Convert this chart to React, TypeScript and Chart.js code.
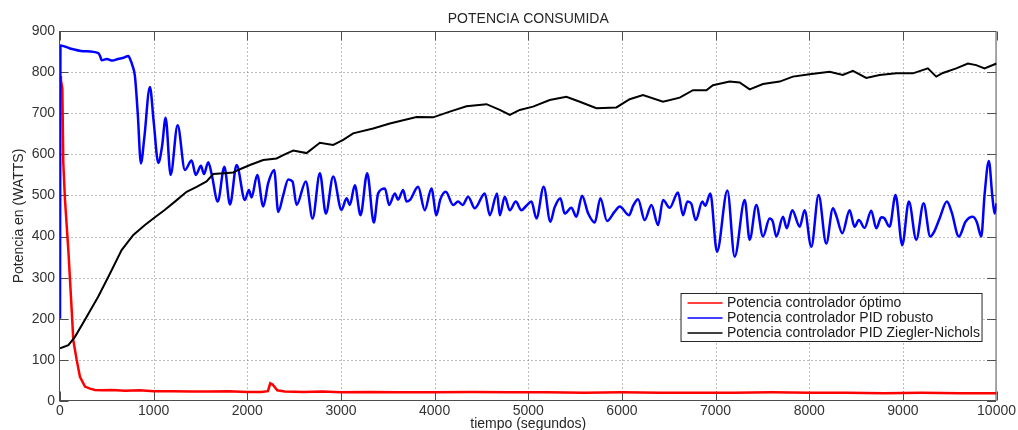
import React, { useEffect, useRef } from "react";
import { Chart, registerables } from "chart.js";

Chart.register(...registerables);

const titulo = "POTENCIA CONSUMIDA";
const etiquetaX = "tiempo (segundos)";
const etiquetaY = "Potencia en (WATTS)";
const nombresSeries = [
  "Potencia controlador óptimo",
  "Potencia controlador PID robusto",
  "Potencia controlador PID Ziegler-Nichols",
];
const coloresSeries = ["#ff0000", "#0000ff", "#000000"];

const ticksX = [0, 1000, 2000, 3000, 4000, 5000, 6000, 7000, 8000, 9000, 10000];
const ticksY = [0, 100, 200, 300, 400, 500, 600, 700, 800, 900];

// Potencia controlador óptimo
const tiempoOptimo = [
  0, 10, 25, 35, 53, 89, 125, 142, 178, 213, 267, 320, 374, 450, 550, 700, 850, 1000,
  1200, 1400, 1600, 1800, 2000, 2150, 2220, 2245, 2270, 2320, 2400, 2600, 2800, 3000,
  3300, 3600, 4000, 4400, 4800, 5200, 5600, 6000, 6400, 6800, 7200, 7600, 8000, 8400,
  8800, 9200, 9600, 10000,
];
const potenciaOptimo = [
  790, 780, 760, 580, 490, 367, 221, 148, 100, 59, 35, 30, 27, 26, 27, 25, 26, 24,
  24, 23, 23, 24, 22, 22, 24, 43, 40, 26, 23, 22, 23, 21,
  22, 21, 21, 22, 21, 21, 20, 21, 20, 20, 20, 21, 20, 20,
  19, 20, 19, 19,
];

// Potencia controlador PID robusto
const tiempoRobusto = [
  0, 5, 100, 250, 409, 430, 445, 500, 560, 620, 680, 729, 760, 772, 800, 830, 864, 900,
  960, 1000, 1050, 1090, 1128, 1181, 1256, 1334, 1405, 1450, 1505, 1537, 1583, 1619,
  1685, 1755, 1815, 1886, 1974, 2017, 2045, 2106, 2170, 2223, 2287, 2330, 2383, 2437,
  2483, 2526, 2625, 2697, 2775, 2839, 2917, 3006, 3060, 3095, 3148, 3209, 3280, 3351,
  3397, 3469, 3515, 3575, 3610, 3664, 3700, 3740, 3824, 3895, 3966, 4020, 4060, 4119,
  4198, 4250, 4300, 4358, 4429, 4536, 4589, 4667, 4696, 4749, 4802, 4867, 4927, 4980,
  5034, 5087, 5165, 5236, 5280, 5343, 5389, 5460, 5514, 5574, 5640, 5710, 5770, 5841,
  5920, 5977, 6076, 6120, 6172, 6243, 6315, 6386, 6439, 6510, 6599, 6652, 6700, 6740,
  6788, 6859, 6890, 6944, 7015, 7126, 7204, 7311, 7364, 7435, 7506, 7577, 7610, 7649,
  7720, 7760, 7819, 7898, 7951, 8022, 8100, 8182, 8253, 8290, 8353, 8431, 8484, 8530,
  8591, 8662, 8716, 8769, 8800, 8858, 8922, 8993, 9064, 9143, 9221, 9292, 9330, 9392,
  9470, 9520, 9598, 9669, 9747, 9790, 9837, 9872, 9918, 9954, 9979, 10000,
];
const potenciaRobusto = [
  200, 865, 858, 851, 846, 838, 829, 832, 828, 832, 835, 839, 825, 817, 790, 700, 578, 640,
  764, 680, 579, 620, 689, 550, 671, 562, 585, 550, 572, 552, 581, 552,
  485, 570, 478, 574, 489, 513, 495, 550, 473, 530, 562, 460, 500, 539,
  534, 477, 534, 444, 554, 456, 546, 465, 493, 477, 525, 452, 554, 434,
  505, 517, 477, 505, 490, 513, 485, 490, 521, 464, 517, 452, 490, 509,
  477, 485, 477, 497, 469, 505, 452, 505, 452, 497, 464, 485, 464, 475,
  485, 444, 521, 436, 470, 493, 456, 470, 448, 499, 456, 434, 493, 438,
  460, 473, 452, 475, 491, 440, 477, 428, 489, 470, 507, 452, 485, 480,
  440, 485, 475, 505, 363, 512, 351, 489, 392, 477, 400, 444, 437, 400,
  448, 420, 464, 424, 464, 375, 501, 383, 469, 450, 408, 464, 424, 440,
  421, 463, 420, 447, 445, 424, 501, 379, 485, 392, 481, 400, 410, 444,
  485, 460, 400, 436, 448, 435, 400, 501, 584, 501, 456, 481,
];

// Potencia controlador PID Ziegler-Nichols
const tiempoZiegler = [
  0, 89, 160, 285, 409, 534, 658, 783, 907, 1014, 1121, 1227, 1352, 1459, 1565, 1636,
  1750, 1850, 1903, 2028, 2170, 2312, 2400, 2490, 2633, 2775, 2917, 3024, 3130, 3344,
  3522, 3807, 3984, 4162, 4340, 4554, 4696, 4803, 4909, 5051, 5229, 5407, 5550, 5728,
  5941, 6083, 6225, 6439, 6617, 6759, 6902, 6972, 7150, 7257, 7364, 7506, 7684, 7826,
  8004, 8218, 8359, 8466, 8609, 8751, 8929, 9107, 9267, 9356, 9427, 9570, 9694, 9783,
  9872, 10000,
];
const potenciaZiegler = [
  128, 136, 156, 205, 254, 310, 367, 404, 428, 447, 465, 485, 509, 521, 534, 552,
  554, 556, 562, 574, 586, 590, 600, 609, 603, 628, 623, 635, 651, 663,
  675, 691, 690, 704, 717, 722, 708, 696, 708, 716, 732, 740, 728, 712,
  714, 734, 744, 728, 738, 756, 756, 768, 777, 775, 758, 771, 777, 789,
  795, 801, 793, 803, 786, 793, 797, 797, 809, 789, 798, 809, 821, 817,
  809, 821,
];

const FUENTE = "'Liberation Sans', Arial, Helvetica, sans-serif";

const aPuntos = (ts: number[], vs: number[]) => ts.map((t, i) => ({ x: t, y: vs[i] }));

const marcoPlugin = {
  id: "marcoMatlab",
  beforeDatasetsDraw(chart: any) {
    const { ctx, chartArea: a } = chart;
    const sx = chart.scales.x;
    const sy = chart.scales.y;
    const L = a.left - 0.5;
    const R = a.right - 0.5;
    const T = a.top + 0.5;
    const B = a.bottom - 0.5;
    ctx.save();
    ctx.lineWidth = 1;
    ctx.strokeStyle = "#7a7a7a";
    ctx.setLineDash([1, 3]);
    ctx.beginPath();
    for (const t of sx.ticks) {
      const p = Math.round(sx.getPixelForValue(t.value)) + 0.5;
      if (p <= L + 2 || p >= R - 2) continue;
      ctx.moveTo(p, T);
      ctx.lineTo(p, B);
    }
    for (const t of sy.ticks) {
      const p = Math.round(sy.getPixelForValue(t.value)) + 0.5;
      if (p <= T + 2 || p >= B - 2) continue;
      ctx.moveTo(L, p);
      ctx.lineTo(R, p);
    }
    ctx.stroke();
    ctx.setLineDash([]);
    ctx.strokeStyle = "#4d4d4d";
    ctx.strokeRect(L, T, R - L, B - T);
    const tl = 9;
    ctx.beginPath();
    for (const t of sx.ticks) {
      const p = Math.round(sx.getPixelForValue(t.value)) + 0.5;
      ctx.moveTo(p, B);
      ctx.lineTo(p, B - tl);
      ctx.moveTo(p, T);
      ctx.lineTo(p, T + tl);
    }
    for (const t of sy.ticks) {
      const p = Math.round(sy.getPixelForValue(t.value)) + 0.5;
      ctx.moveTo(L, p);
      ctx.lineTo(L + tl, p);
      ctx.moveTo(R, p);
      ctx.lineTo(R - tl, p);
    }
    ctx.stroke();
    ctx.fillStyle = "#262626";
    ctx.font = `14px ${FUENTE}`;
    ctx.textAlign = "center";
    ctx.textBaseline = "middle";
    const cx = (a.left + a.right) / 2;
    ctx.fillText(titulo, cx, 19);
    ctx.fillText(etiquetaX, cx, 424);
    ctx.save();
    ctx.translate(19, (a.top + a.bottom) / 2);
    ctx.rotate(-Math.PI / 2);
    ctx.fillText(etiquetaY, 0, 0);
    ctx.restore();
    ctx.restore();
  },
  afterDatasetsDraw(chart: any) {
    const { ctx, chartArea: a } = chart;
    const bx = a.right - 315.5;
    const by = a.bottom - 107.5;
    const bw = 301;
    const bh = 48;
    ctx.save();
    ctx.fillStyle = "#ffffff";
    ctx.fillRect(bx, by, bw, bh);
    ctx.lineWidth = 1;
    ctx.strokeStyle = "#262626";
    ctx.strokeRect(bx, by, bw, bh);
    ctx.font = `14px ${FUENTE}`;
    ctx.textAlign = "left";
    ctx.textBaseline = "middle";
    chart.data.datasets.forEach((ds: any, i: number) => {
      const yy = by + 9.5 + i * 15;
      ctx.strokeStyle = ds.borderColor;
      ctx.lineWidth = 1.5;
      ctx.beginPath();
      ctx.moveTo(bx + 6.5, yy);
      ctx.lineTo(bx + 41.5, yy);
      ctx.stroke();
      ctx.fillStyle = "#1a1a1a";
      ctx.fillText(ds.label, bx + 46, yy);
    });
    ctx.restore();
  },
};

export default function App() {
  const ref = useRef<HTMLCanvasElement | null>(null);
  useEffect(() => {
    if (!ref.current) return;
    const chart = new Chart(ref.current, {
      type: "line",
      data: {
        datasets: [
          {
            label: nombresSeries[0],
            data: aPuntos(tiempoOptimo, potenciaOptimo),
            borderColor: coloresSeries[0],
            borderWidth: 2.5,
            order: 3,
          },
          {
            label: nombresSeries[1],
            data: aPuntos(tiempoRobusto, potenciaRobusto),
            borderColor: coloresSeries[1],
            borderWidth: 2.5,
            cubicInterpolationMode: "monotone",
            order: 2,
          },
          {
            label: nombresSeries[2],
            data: aPuntos(tiempoZiegler, potenciaZiegler),
            borderColor: coloresSeries[2],
            borderWidth: 2,
            order: 1,
          },
        ],
      },
      options: {
        animation: false,
        responsive: true,
        maintainAspectRatio: false,
        devicePixelRatio: 1,
        layout: { padding: { top: 31, right: 21, left: 0, bottom: 0 } },
        elements: { point: { radius: 0 }, line: { tension: 0, fill: false } },
        plugins: { legend: { display: false }, tooltip: { enabled: false }, title: { display: false } },
        scales: {
          x: {
            type: "linear",
            min: 0,
            max: 10000,
            afterBuildTicks: (s: any) => {
              s.ticks = ticksX.map((v) => ({ value: v }));
            },
            afterFit: (s: any) => {
              s.height = 29;
            },
            grid: { display: false, drawTicks: false },
            border: { display: false },
            ticks: {
              autoSkip: false,
              maxRotation: 0,
              padding: 2,
              color: "#333333",
              font: { family: FUENTE, size: 14 },
              callback: (v: any) => String(v),
            },
          },
          y: {
            type: "linear",
            min: 0,
            max: 900,
            afterBuildTicks: (s: any) => {
              s.ticks = ticksY.map((v) => ({ value: v }));
            },
            afterFit: (s: any) => {
              s.width = 60;
            },
            grid: { display: false, drawTicks: false },
            border: { display: false },
            ticks: {
              autoSkip: false,
              padding: 5,
              color: "#333333",
              font: { family: FUENTE, size: 14 },
              callback: (v: any) => String(v),
            },
          },
        },
      },
      plugins: [marcoPlugin],
    } as any);
    return () => chart.destroy();
  }, []);
  return (
    <div style={{ position: "fixed", left: 0, top: 0, width: 1018, height: 430, background: "#fff" }}>
      <canvas ref={ref} />
    </div>
  );
}
